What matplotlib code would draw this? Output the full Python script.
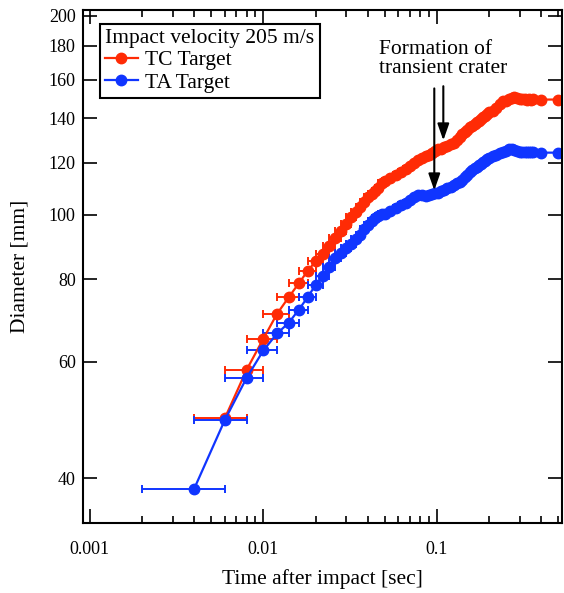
import matplotlib
matplotlib.use("Agg")
import matplotlib.pyplot as plt
from matplotlib.lines import Line2D
from matplotlib.ticker import FixedLocator, NullLocator, LogLocator, FuncFormatter, NullFormatter

plt.rcParams['font.family'] = ['Liberation Serif', 'DejaVu Serif']

# time after impact [sec]
times = [0.004, 0.006, 0.008, 0.010, 0.012, 0.014, 0.016, 0.018, 0.020, 0.022,
         0.024, 0.026, 0.028, 0.030, 0.032, 0.034, 0.036, 0.038, 0.040, 0.042,
         0.044, 0.046, 0.048, 0.050,
         0.054, 0.058, 0.062, 0.066, 0.070, 0.074, 0.078, 0.082, 0.086, 0.090,
         0.094, 0.098, 0.102, 0.106, 0.110,
         0.115, 0.120, 0.125, 0.130, 0.135, 0.140, 0.145, 0.150, 0.155, 0.160,
         0.165, 0.170, 0.175, 0.180, 0.185, 0.190, 0.195, 0.200,
         0.21, 0.22, 0.23, 0.24, 0.25, 0.26, 0.27, 0.28, 0.29, 0.30,
         0.31, 0.32, 0.33, 0.34, 0.35, 0.36,
         0.40, 0.50]

# TC target starts one frame later (0.006 s)
tc_diam = [49.3, 58.3, 65.0, 70.9, 75.1, 78.8, 82.3, 85.1, 87.4, 89.9,
           92.3, 94.6, 96.8, 99.2, 101.0, 102.8, 104.6, 106.4, 107.6, 108.8,
           110.0, 111.6, 112.6,
           113.6, 114.8, 116.0, 117.2, 118.4, 119.7, 120.9, 121.7, 122.6, 123.4,
           124.0, 124.7, 125.6, 126.0, 126.7,
           127.1, 128.0, 128.3, 129.6, 131.0, 132.3, 133.5, 134.6, 135.6, 136.5,
           137.3, 138.0, 138.8, 139.5, 140.6, 141.2, 142.2, 143.0,
           143.6, 145.2, 146.9, 148.4, 148.9, 149.8, 150.4, 150.6, 150.1, 149.8,
           149.5, 149.5, 149.2, 149.5, 149.2, 149.5,
           149.4, 149.4]

ta_diam = [38.6, 49.0, 56.7, 62.4, 66.2, 68.7, 71.9, 75.1, 78.4, 81.0,
           83.4, 86.0, 87.6, 89.0, 90.5, 92.1, 93.4, 95.1, 96.7, 97.8,
           98.8, 99.5, 100.2, 100.5,
           101.3, 102.3, 103.4, 104.1, 105.2, 106.3, 107.0, 107.0, 106.8, 107.0,
           107.4, 107.8, 108.1, 108.5, 109.1,
           109.7, 110.4, 111.0, 111.6, 112.0, 112.8, 114.0, 115.0, 116.0, 116.8,
           117.6, 118.0, 118.8, 119.5, 120.1, 120.7, 121.3, 122.0,
           122.6, 123.0, 123.9, 124.5, 125.0, 125.6, 125.8, 125.2, 124.7, 124.5,
           124.5, 124.3, 124.5, 124.3, 124.5, 124.3,
           124.2, 124.2]

time_err = 0.002  # frame interval
tc_times = times[1:]

y_ticks = [40, 60, 80, 100, 120, 140, 160, 180, 200]
x_ticks = [0.001, 0.01, 0.1]

red = '#ff2b05'
blue = '#1035ff'
ms = 7.5

fig = plt.figure(figsize=(5.64, 5.93), dpi=100)
ax = fig.add_axes([0.1466, 0.1175, 0.8504, 0.8656])

ax.errorbar(tc_times, tc_diam, xerr=time_err, fmt='o-', color=red, ms=ms,
            lw=1.6, elinewidth=1.4, capsize=2.8, capthick=1.4)
ax.errorbar(times, ta_diam, xerr=time_err, fmt='o-', color=blue, ms=ms,
            lw=1.6, elinewidth=1.4, capsize=2.8, capthick=1.4)

ax.set_xscale('log')
ax.set_yscale('log')
ax.set_xlim(0.00091, 0.528)
ax.set_ylim(34.2, 204)

ax.xaxis.set_major_locator(FixedLocator(x_ticks))
ax.xaxis.set_minor_locator(LogLocator(base=10, subs=range(2, 10)))
ax.xaxis.set_major_formatter(FuncFormatter(lambda v, p: f'{v:g}'))
ax.xaxis.set_minor_formatter(NullFormatter())
ax.yaxis.set_major_locator(FixedLocator(y_ticks))
ax.yaxis.set_minor_locator(NullLocator())
ax.yaxis.set_major_formatter(FuncFormatter(lambda v, p: f'{v:.0f}'))

ax.tick_params(which='both', direction='in', top=True, right=True, width=1.2,
               labelsize=13)
ax.tick_params(which='major', length=10)
ax.tick_params(which='minor', length=5)
ax.tick_params(axis='x', pad=13)
ax.tick_params(axis='y', pad=5)
for s in ax.spines.values():
    s.set_linewidth(1.5)

ax.set_xlabel('Time after impact [sec]', fontsize=15.5, labelpad=8)
ax.set_ylabel('Diameter [mm]', fontsize=15.5, labelpad=14)

handles = [Line2D([], [], color=red, marker='o', ms=ms, lw=1.6),
           Line2D([], [], color=blue, marker='o', ms=ms, lw=1.6)]
leg = ax.legend(handles, ['TC Target', 'TA Target'],
                title='Impact velocity 205 m/s', loc='upper left',
                bbox_to_anchor=(0.036, 0.973), borderaxespad=0, fontsize=15.5,
                title_fontsize=15.5, fancybox=False, edgecolor='black',
                framealpha=1, handlelength=1.5, handletextpad=0.35,
                labelspacing=0.1, borderpad=0.25, alignment='left')
leg.get_frame().set_linewidth(1.5)

ax.text(0.0463, 184, 'Formation of\ntransient crater', fontsize=15.5,
        ha='left', va='top', linespacing=1.05)
ax.annotate('', xy=(0.0966, 108.9), xytext=(0.0966, 155.3),
            arrowprops=dict(arrowstyle='-|>,head_length=1.0,head_width=0.35',
                            color='black', lw=1.5, mutation_scale=10,
                            shrinkA=0, shrinkB=0))
ax.annotate('', xy=(0.1089, 129.6), xytext=(0.1089, 156.5),
            arrowprops=dict(arrowstyle='-|>,head_length=1.0,head_width=0.35',
                            color='black', lw=1.5, mutation_scale=10,
                            shrinkA=0, shrinkB=0))

fig.savefig('out.png', dpi=100)
